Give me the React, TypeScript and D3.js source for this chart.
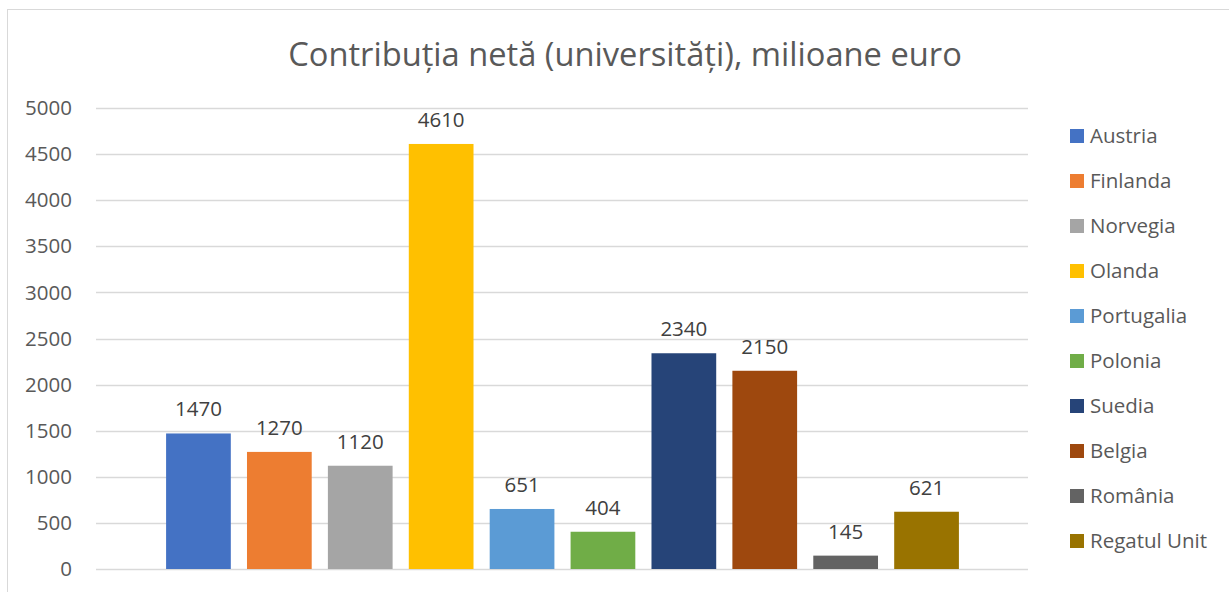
import React, { useEffect, useRef } from "react";
import * as d3 from "d3";

const countries = ["Austria", "Finlanda", "Norvegia", "Olanda", "Portugalia", "Polonia", "Suedia", "Belgia", "România", "Regatul Unit"];
const values = [1470, 1270, 1120, 4610, 651, 404, 2340, 2150, 145, 621];
const colors = ["#4472C4", "#ED7D31", "#A5A5A5", "#FFC000", "#5B9BD5", "#70AD47", "#264478", "#9E480E", "#636363", "#997300"];
const yTicks = [0, 500, 1000, 1500, 2000, 2500, 3000, 3500, 4000, 4500, 5000];
const title = "Contribuția netă (universități), milioane euro";

const FONT = "'Open Sans', 'Noto Sans', sans-serif";

export default function App() {
  const ref = useRef<SVGSVGElement | null>(null);

  useEffect(() => {
    const svg = d3.select(ref.current);
    svg.selectAll("*").remove();

    const W = 1229, H = 592;
    const plotL = 96, plotR = 1028, plotT = 108, plotB = 569;

    // chart border (only left/top visible in the window)
    svg.append("rect")
      .attr("x", 7.5).attr("y", 9.5)
      .attr("width", W + 50).attr("height", H + 50)
      .attr("fill", "#fff").attr("stroke", "#D9D9D9").attr("stroke-width", 1);

    const y = d3.scaleLinear().domain([0, 5000]).range([plotB, plotT]);
    const x = d3.scaleBand<string>().domain(countries).range([158, 967]).paddingInner(0.2).paddingOuter(0.1);

    // gridlines
    svg.append("g").selectAll("line").data(yTicks).join("line")
      .attr("x1", plotL).attr("x2", plotR)
      .attr("y1", d => Math.round(y(d)) + 0.5).attr("y2", d => Math.round(y(d)) + 0.5)
      .attr("stroke", "#D9D9D9").attr("stroke-width", 1.3);

    // y tick labels
    svg.append("g").selectAll("text").data(yTicks).join("text")
      .attr("x", 72).attr("y", d => y(d))
      .attr("dy", "0.35em")
      .attr("text-anchor", "end")
      .attr("font-family", FONT).attr("font-size", 20.5)
      .attr("fill", "#595959")
      .text(d => String(d));

    // bars
    svg.append("g").selectAll("rect").data(values).join("rect")
      .attr("x", (d, i) => x(countries[i])!)
      .attr("width", x.bandwidth())
      .attr("y", d => y(d))
      .attr("height", d => plotB - y(d))
      .attr("fill", (d, i) => colors[i]);

    // data labels
    svg.append("g").selectAll("text").data(values).join("text")
      .attr("x", (d, i) => x(countries[i])! + x.bandwidth() / 2)
      .attr("y", d => y(d) - 17)
      .attr("text-anchor", "middle")
      .attr("font-family", FONT).attr("font-size", 20.5)
      .attr("fill", "#404040")
      .text(d => String(d));

    // legend
    const lg = svg.append("g");
    countries.forEach((c, i) => {
      const cy = 136 + 45 * i;
      lg.append("rect").attr("x", 1070).attr("y", cy - 7).attr("width", 14).attr("height", 14).attr("fill", colors[i]);
      lg.append("text").attr("x", 1090).attr("y", cy).attr("dy", "0.35em")
        .attr("font-family", FONT).attr("font-size", 20.5).attr("fill", "#595959").text(c);
    });

    // title, fitted to the reference width
    const t = svg.append("text")
      .attr("x", 625).attr("y", 66)
      .attr("text-anchor", "middle")
      .attr("font-family", FONT).attr("font-size", 30)
      .attr("fill", "#595959")
      .text(title);
    const node = t.node() as SVGTextElement;
    const w = node.getComputedTextLength();
    if (w > 0) t.attr("font-size", 30 * 674 / w);
  }, []);

  return (
    <svg
      ref={ref}
      width={1229}
      height={592}
      style={{ position: "absolute", left: 0, top: 0, display: "block", background: "#fff" }}
    />
  );
}
